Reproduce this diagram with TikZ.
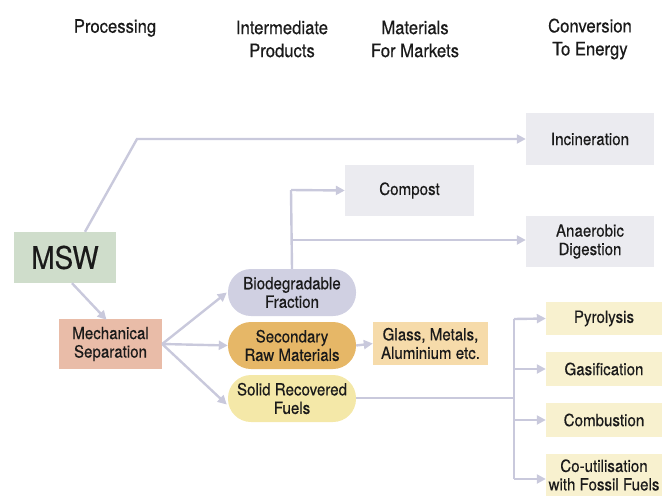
\documentclass[tikz,border=0pt]{standalone}
\usepackage{fontspec}
\setmainfont{TeX Gyre Heros}[FakeStretch=0.9,FakeBold=0.4]
\usetikzlibrary{arrows.meta}
\definecolor{lin}{HTML}{C9C9DC}
\definecolor{msw}{HTML}{CFDDCB}
\definecolor{mech}{HTML}{E9BCA8}
\definecolor{bio}{HTML}{D0D0E2}
\definecolor{srm}{HTML}{E6B767}
\definecolor{srf}{HTML}{F4E8A8}
\definecolor{glass}{HTML}{F6DBAA}
\definecolor{gray1}{HTML}{EBEBF0}
\definecolor{pale}{HTML}{F8F1CF}
\definecolor{txt}{HTML}{1A1A1A}
\begin{document}
\begin{tikzpicture}[x=1pt,y=-1pt,
  every node/.style={text=txt},
  hdr/.style={font=\fontsize{18.5}{23}\selectfont, align=center},
  box/.style={inner sep=0pt, align=center, font=\fontsize{16.8}{18.5}\selectfont},
  pill/.style={box, rounded corners=23pt, minimum width=128pt, minimum height=47pt},
  conn/.style={draw=lin, line width=2.4pt},
  arr/.style={conn, -{Triangle[length=9pt,width=9pt]}}
]
\useasboundingbox (0,0) rectangle (662,498);
% headers
\node[hdr] (h1) at (115,28) {Processing};
\node[hdr] (h2) at (282,39) {Intermediate\\Products};
\node[hdr] (h3) at (415,39) {Materials\\For Markets};
\node[hdr] (h4) at (590,39) {Conversion\\To Energy};
% boxes
\node[box, fill=msw, minimum width=102pt, minimum height=51pt, font=\fontsize{31}{32}\selectfont] (msw) at (65,257.5) {MSW};
\node[box, fill=mech, minimum width=103pt, minimum height=50pt] (mech) at (110.5,344) {Mechanical\\Separation};
\node[pill, fill=bio] (bio) at (292,292.5) {Biodegradable\\Fraction};
\node[pill, fill=srm] (srm) at (292,345.5) {Secondary\\Raw Materials};
\node[pill, fill=srf] (srf) at (292,398.5) {Solid Recovered\\Fuels};
\node[box, fill=glass, minimum width=115pt, minimum height=43pt] (glass) at (430.5,343.5) {Glass, Metals,\\Aluminium etc.};
\node[box, fill=gray1, minimum width=128pt, minimum height=52pt] (inc) at (590,139) {Incineration};
\node[box, fill=gray1, minimum width=129pt, minimum height=51pt] (comp) at (409.5,190.5) {Compost};
\node[box, fill=gray1, minimum width=128pt, minimum height=51pt] (ana) at (590,241.5) {Anaerobic\\Digestion};
\node[box, fill=pale, minimum width=116pt, minimum height=33pt] (pyr) at (604,318.5) {Pyrolysis};
\node[box, fill=pale, minimum width=116pt, minimum height=34pt] (gas) at (604,369) {Gasification};
\node[box, fill=pale, minimum width=116pt, minimum height=34pt] (comb) at (604,420) {Combustion};
\node[box, fill=pale, minimum width=116pt, minimum height=42pt] (cou) at (604,475) {Co-utilisation\\with Fossil Fuels};
% coordinates
\coordinate (c1) at (137,139);
\coordinate (v1) at (291,190);
\coordinate (v2) at (291,240);
\coordinate (s1) at (514,398);
\coordinate (t1) at (514,319);
\coordinate (t2) at (514,369);
\coordinate (t3) at (514,420);
\coordinate (t4) at (514,479);
% connectors
\draw[arr] ([xshift=20pt]msw.north) -- (c1) -- (inc.west);
\draw[arr] ([xshift=7pt]msw.south) -- ([xshift=-4pt,yshift=-1pt]mech.north);
\draw[arr] (mech.east) -- ([xshift=-1pt]bio.west);
\draw[arr] (mech.east) -- (srm.west);
\draw[arr] (mech.east) -- ([xshift=-1pt,yshift=-6pt]srf.west);
\draw[conn] (bio.north) -- (v1);
\draw[arr] (v1) -- (comp.west);
\draw[arr] (v2) -- (ana.west |- v2);
\draw[arr] (srm.east) -- (glass.west);
\draw[conn] (srf.east |- s1) -- (s1);
\draw[conn] (t1) -- (t4);
\draw[arr] (t1) -- (pyr.west);
\draw[arr] (t2) -- (gas.west);
\draw[arr] (t3) -- (comb.west);
\draw[arr] (t4) -- (cou.west |- t4);
\end{tikzpicture}
\end{document}
